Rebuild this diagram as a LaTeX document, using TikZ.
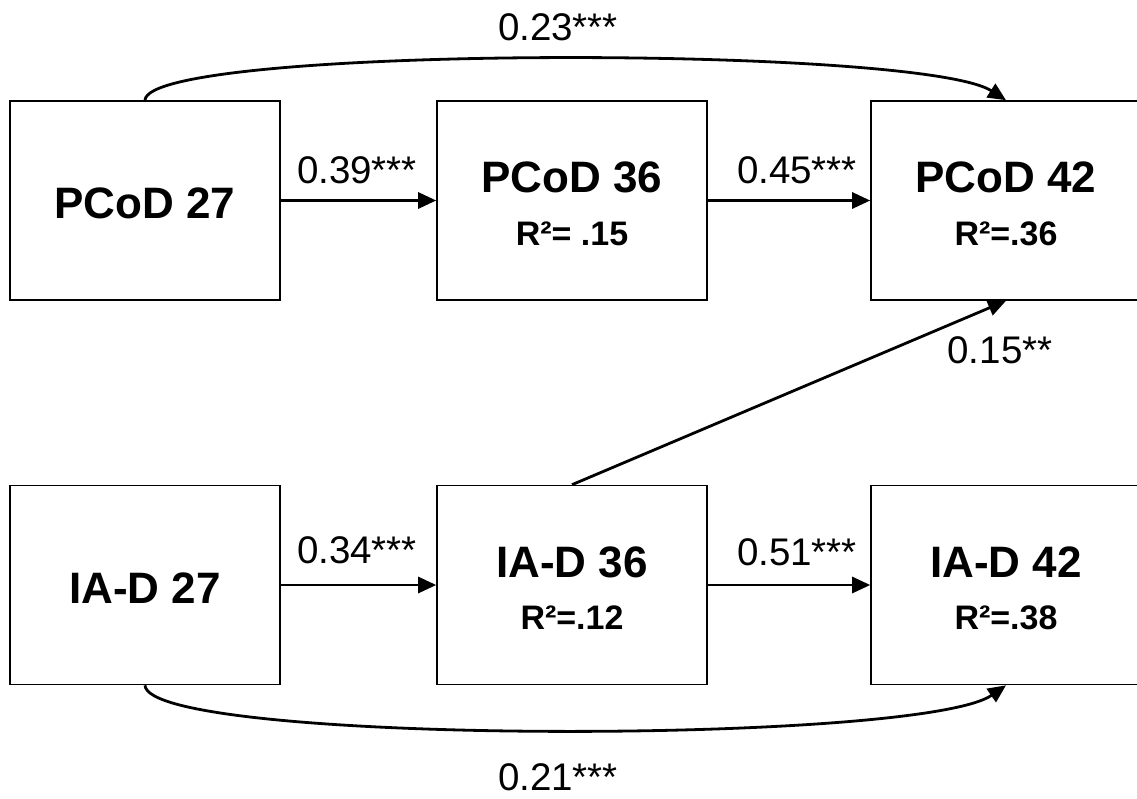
\documentclass[tikz,border=0pt]{standalone}
\usepackage{fontspec}
\setmainfont{Liberation Sans}
\usetikzlibrary{arrows.meta}
\begin{document}
\begin{tikzpicture}[x=1pt,y=-1pt,
  box/.style={draw=black,line width=1.6pt,minimum width=270pt,minimum height=199pt,inner sep=0pt,fill=white},
  ttl/.style={font=\fontsize{44}{48}\selectfont\bfseries,anchor=base,inner sep=0pt},
  rsq/.style={font=\fontsize{34}{38}\selectfont\bfseries,anchor=base,inner sep=0pt},
  coef/.style={font=\fontsize{38.5}{42}\selectfont,anchor=base,inner sep=0pt},
  path/.style={line width=2.8pt,-{Triangle[length=18pt,width=16pt]}}]
\useasboundingbox (0,0) rectangle (1137,798);
% boxes
\node[box] (a1) at (145,200.5) {};
\node[box] (b1) at (572,200.5) {};
\node[box] (c1) at (1006,200.5) {};
\node[box] (a2) at (145,585) {};
\node[box] (b2) at (572,585) {};
\node[box] (c2) at (1006,585) {};
% texts
\node[ttl] (ta1) at (145,218) {PCoD 27};
\node[ttl] (tb1) at (572,192.7) {PCoD 36};
\node[rsq] (rb1) at (572,245) {R²= .15};
\node[ttl] (tc1) at (1006,192.7) {PCoD 42};
\node[rsq] (rc1) at (1006,245) {R²=.36};
\node[ttl] (ta2) at (145,603) {IA-D 27};
\node[ttl] (tb2) at (572,577.5) {IA-D 36};
\node[rsq] (rb2) at (572,629) {R²=.12};
\node[ttl] (tc2) at (1006,577.5) {IA-D 42};
\node[rsq] (rc2) at (1006,629) {R²=.38};
% connectors
\draw[path] (a1.east) -- (b1.west);
\draw[path] (b1.east) -- (c1.west);
\draw[path] (a2.east) -- (b2.west);
\draw[path] (b2.east) -- (c2.west);
\draw[path] (b2.north) -- (c1.south);
\draw[path] (a1.north) .. controls (148,45) and (920,45) .. (c1.north);
\draw[path] (a2.south) .. controls (148,745) and (920,745) .. (c2.south);
% coefficients
\node[coef] (l1) at (357,183) {0.39***};
\node[coef] (l2) at (797,183) {0.45***};
\node[coef] (l3) at (357,563) {0.34***};
\node[coef] (l4) at (797,565) {0.51***};
\node[coef] (l5) at (1000,363) {0.15**};
\node[coef] (l6) at (558,40) {0.23***};
\node[coef] (l7) at (558,790) {0.21***};
\end{tikzpicture}
\end{document}
